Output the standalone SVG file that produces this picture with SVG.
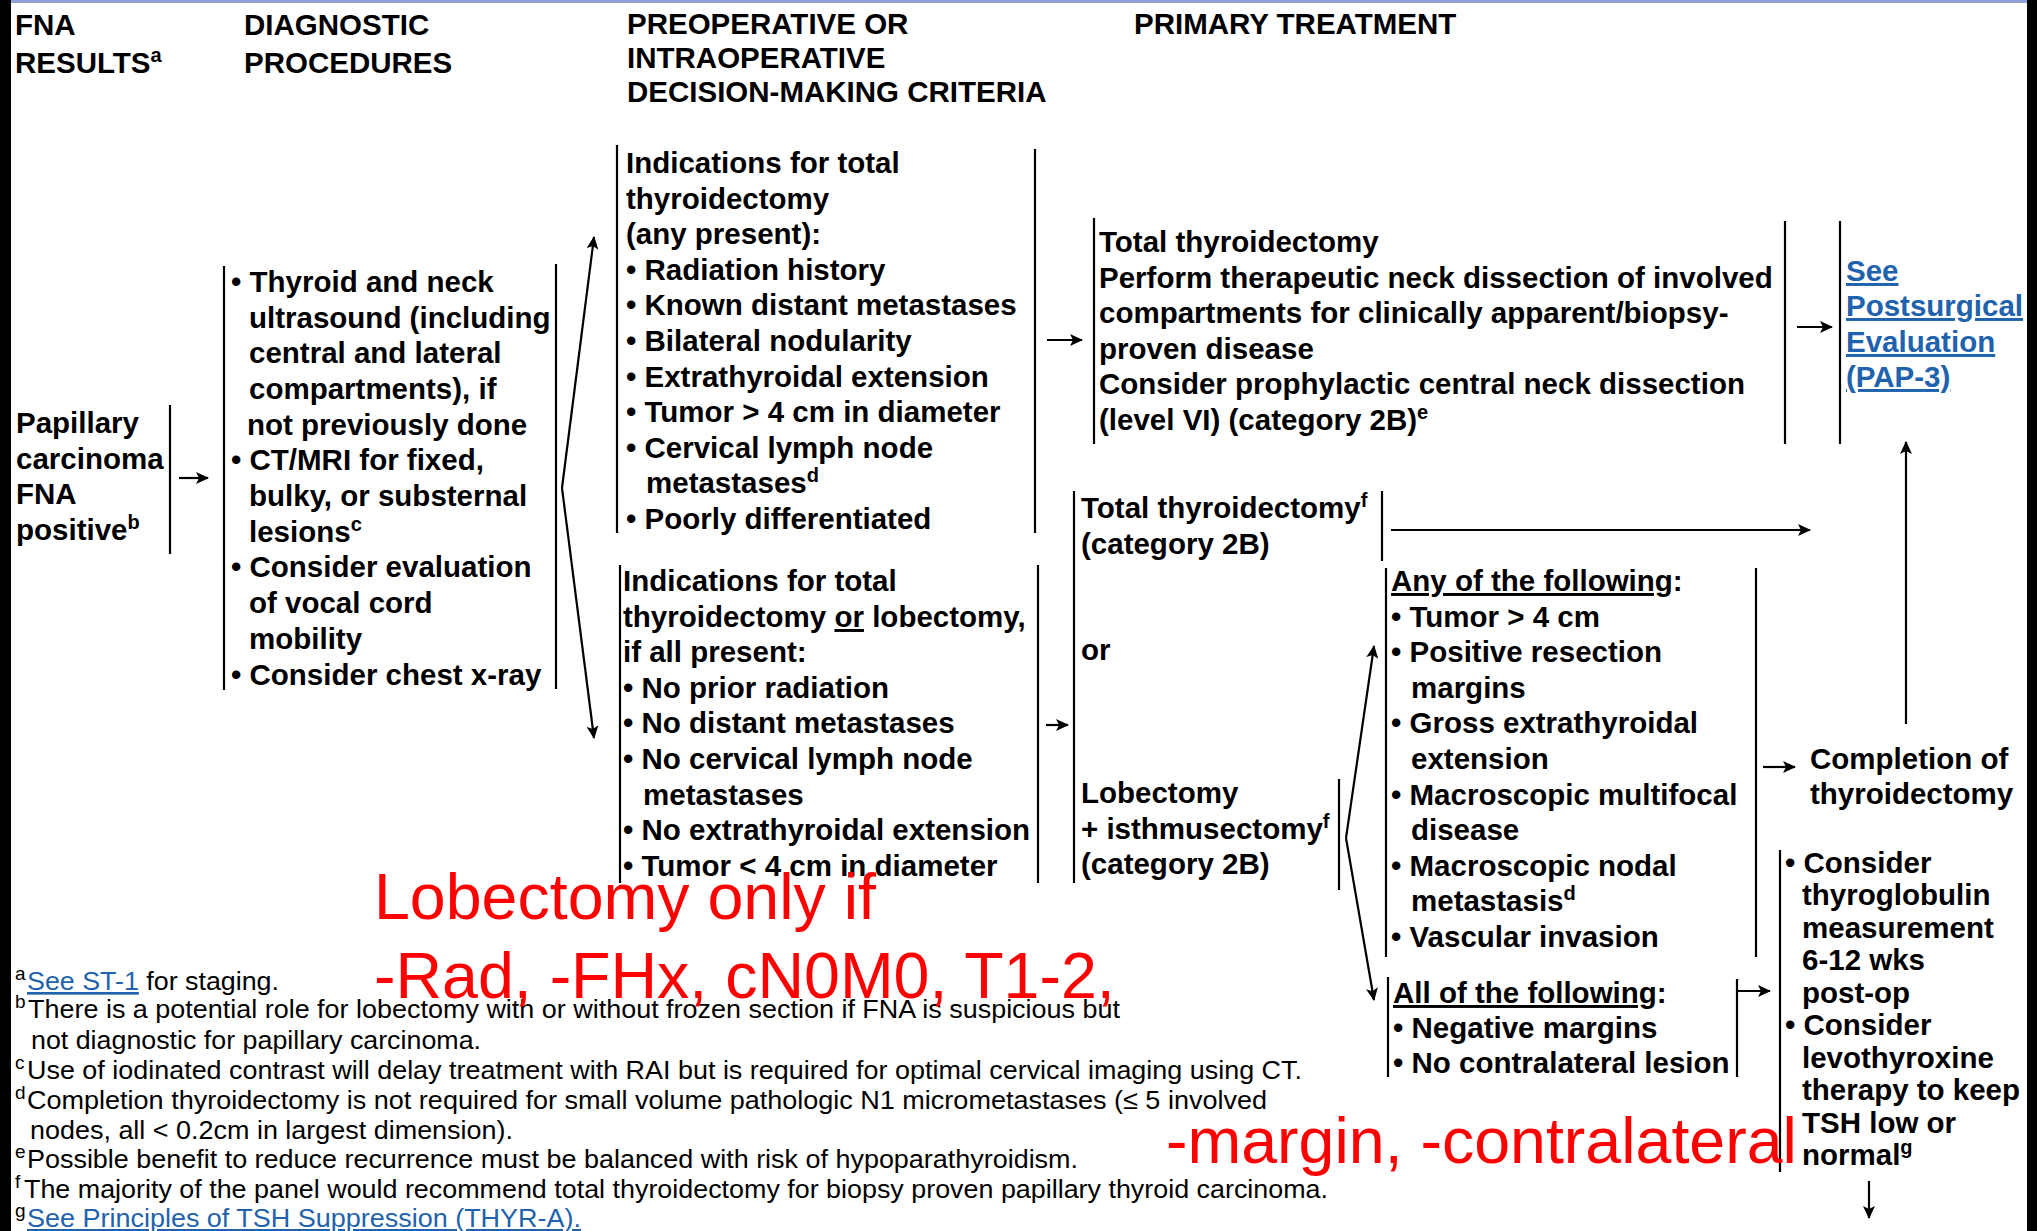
<svg xmlns="http://www.w3.org/2000/svg" width="2037" height="1231" viewBox="0 0 2037 1231">
<style>
text{font-family:"Liberation Sans",Arial,sans-serif;fill:#000}
.h{font-size:29.5px;font-weight:bold}
.t{font-size:29.5px;font-weight:bold}
.s{font-size:20px;font-weight:bold}
.fn{font-size:26.5px}
.fs{font-size:19px}
.lnk{fill:#1f62ad;text-decoration:underline}
.red{font-size:64.5px;fill:#ff0000}
.u{text-decoration:underline}
.bar{stroke:#000;stroke-width:2.2;fill:none}
.c{stroke:#000;stroke-width:2.2;fill:none;marker-end:url(#ah)}
</style>
<defs>
<marker id="ah" markerUnits="userSpaceOnUse" markerWidth="13" markerHeight="12" refX="12" refY="6" orient="auto">
<path d="M0,0 L13,6 L0,12 L3,6 z" fill="#000"/>
</marker>
</defs>
<rect x="0" y="0" width="2037" height="1231" fill="#fff"/>
<rect x="11" y="0" width="2016" height="3" fill="#8fa2d8"/>
<rect x="0" y="0" width="11" height="1231" fill="#000"/>
<rect x="2027" y="0" width="10" height="1231" fill="#000"/>

<g id="headers">
<text class="h" x="15" y="35">FNA</text>
<text class="h" x="15" y="73">RESULTS<tspan class="s" dy="-11">a</tspan></text>
<text class="h" x="244" y="35">DIAGNOSTIC</text>
<text class="h" x="244" y="73">PROCEDURES</text>
<text class="h" x="627" y="34">PREOPERATIVE OR</text>
<text class="h" x="627" y="68">INTRAOPERATIVE</text>
<text class="h" x="627" y="102">DECISION-MAKING CRITERIA</text>
<text class="h" x="1134" y="34">PRIMARY TREATMENT</text>
</g>

<g id="papillary">
<line class="bar" x1="170" y1="405" x2="170" y2="554"/>
<text class="t" x="16" y="433">Papillary</text>
<text class="t" x="16" y="469">carcinoma</text>
<text class="t" x="16" y="504">FNA</text>
<text class="t" x="16" y="540">positive<tspan class="s" dy="-11">b</tspan></text>
</g>

<g id="diagnostic">
<line class="bar" x1="224" y1="266" x2="224" y2="690"/>
<line class="bar" x1="556" y1="264" x2="556" y2="689"/>
<text class="t" x="231" y="292">• Thyroid and neck</text>
<text class="t" x="249" y="328">ultrasound (including</text>
<text class="t" x="249" y="363">central and lateral</text>
<text class="t" x="249" y="399">compartments), if</text>
<text class="t" x="247" y="435">not previously done</text>
<text class="t" x="231" y="470">• CT/MRI for fixed,</text>
<text class="t" x="249" y="506">bulky, or substernal</text>
<text class="t" x="249" y="542">lesions<tspan class="s" dy="-11">c</tspan></text>
<text class="t" x="231" y="577">• Consider evaluation</text>
<text class="t" x="249" y="613">of vocal cord</text>
<text class="t" x="249" y="649">mobility</text>
<text class="t" x="231" y="685">• Consider chest x-ray</text>
</g>

<g id="indications-total">
<line class="bar" x1="617" y1="145" x2="617" y2="533"/>
<line class="bar" x1="1035" y1="149" x2="1035" y2="533"/>
<text class="t" x="626" y="173">Indications for total</text>
<text class="t" x="626" y="209">thyroidectomy</text>
<text class="t" x="626" y="244">(any present):</text>
<text class="t" x="626" y="280">• Radiation history</text>
<text class="t" x="626" y="315">• Known distant metastases</text>
<text class="t" x="626" y="351">• Bilateral nodularity</text>
<text class="t" x="626" y="387">• Extrathyroidal extension</text>
<text class="t" x="626" y="422">• Tumor &gt; 4 cm in diameter</text>
<text class="t" x="626" y="458">• Cervical lymph node</text>
<text class="t" x="646" y="493">metastases<tspan class="s" dy="-11">d</tspan></text>
<text class="t" x="626" y="529">• Poorly differentiated</text>
</g>

<g id="total-thyroidectomy-neck">
<line class="bar" x1="1094" y1="218" x2="1094" y2="444"/>
<line class="bar" x1="1785" y1="221" x2="1785" y2="444"/>
<text class="t" x="1099" y="252">Total thyroidectomy</text>
<text class="t" x="1099" y="288">Perform therapeutic neck dissection of involved</text>
<text class="t" x="1099" y="323">compartments for clinically apparent/biopsy-</text>
<text class="t" x="1099" y="359">proven disease</text>
<text class="t" x="1099" y="394">Consider prophylactic central neck dissection</text>
<text class="t" x="1099" y="430">(level VI) (category 2B)<tspan class="s" dy="-11">e</tspan></text>
</g>

<g id="postsurgical">
<line class="bar" x1="1840" y1="221" x2="1840" y2="444"/>
<text class="t lnk" x="1846" y="281">See </text>
<text class="t lnk" x="1846" y="316">Postsurgical</text>
<text class="t lnk" x="1846" y="352">Evaluation </text>
<text class="t lnk" x="1846" y="387">(PAP-3)</text>
</g>

<g id="indications-lobectomy">
<line class="bar" x1="620" y1="565" x2="620" y2="883"/>
<line class="bar" x1="1038" y1="565" x2="1038" y2="883"/>
<text class="t" x="623" y="591">Indications for total</text>
<text class="t" x="623" y="627">thyroidectomy <tspan class="u">or</tspan> lobectomy,</text>
<text class="t" x="623" y="662">if all present:</text>
<text class="t" x="623" y="698">• No prior radiation</text>
<text class="t" x="623" y="733">• No distant metastases</text>
<text class="t" x="623" y="769">• No cervical lymph node</text>
<text class="t" x="643" y="805">metastases</text>
<text class="t" x="623" y="840">• No extrathyroidal extension</text>
<text class="t" x="623" y="876">• Tumor &lt; 4 cm in diameter</text>
</g>

<g id="surgery-options">
<line class="bar" x1="1074" y1="491" x2="1074" y2="883"/>
<line class="bar" x1="1382" y1="491" x2="1382" y2="561"/>
<line class="bar" x1="1339" y1="779" x2="1339" y2="890"/>
<text class="t" x="1081" y="518">Total thyroidectomy<tspan class="s" dy="-11">f</tspan></text>
<text class="t" x="1081" y="554">(category 2B)</text>
<text class="t" x="1081" y="660">or</text>
<text class="t" x="1081" y="803">Lobectomy</text>
<text class="t" x="1081" y="839">+ isthmusectomy<tspan class="s" dy="-11">f</tspan></text>
<text class="t" x="1081" y="874">(category 2B)</text>
</g>

<g id="any-following">
<line class="bar" x1="1386" y1="568" x2="1386" y2="957"/>
<line class="bar" x1="1756" y1="568" x2="1756" y2="957"/>
<text class="t" x="1391" y="591"><tspan class="u">Any of the following</tspan>:</text>
<text class="t" x="1391" y="627">• Tumor &gt; 4 cm</text>
<text class="t" x="1391" y="662">• Positive resection</text>
<text class="t" x="1411" y="698">margins</text>
<text class="t" x="1391" y="733">• Gross extrathyroidal</text>
<text class="t" x="1411" y="769">extension</text>
<text class="t" x="1391" y="805">• Macroscopic multifocal</text>
<text class="t" x="1411" y="840">disease</text>
<text class="t" x="1391" y="876">• Macroscopic nodal</text>
<text class="t" x="1411" y="911">metastasis<tspan class="s" dy="-11">d</tspan></text>
<text class="t" x="1391" y="947">• Vascular invasion</text>
</g>

<g id="completion">
<text class="t" x="1810" y="769">Completion of</text>
<text class="t" x="1810" y="804">thyroidectomy</text>
</g>

<g id="all-following">
<line class="bar" x1="1388" y1="977" x2="1388" y2="1077"/>
<line class="bar" x1="1737" y1="979" x2="1737" y2="1077"/>
<text class="t" x="1393" y="1003"><tspan class="u">All of the following</tspan>:</text>
<text class="t" x="1393" y="1038">• Negative margins</text>
<text class="t" x="1393" y="1073">• No contralateral lesion</text>
</g>

<g id="consider">
<line class="bar" x1="1780" y1="850" x2="1780" y2="1172"/>
<text class="t" x="1785" y="873">• Consider</text>
<text class="t" x="1802" y="905">thyroglobulin</text>
<text class="t" x="1802" y="938">measurement</text>
<text class="t" x="1802" y="970">6-12 wks</text>
<text class="t" x="1802" y="1003">post-op</text>
<text class="t" x="1785" y="1035">• Consider</text>
<text class="t" x="1802" y="1068">levothyroxine</text>
<text class="t" x="1802" y="1100">therapy to keep</text>
<text class="t" x="1802" y="1133">TSH low or</text>
<text class="t" x="1802" y="1165">normal<tspan class="s" dy="-11">g</tspan></text>
</g>

<g id="connectors">
<line class="c" x1="179" y1="478" x2="208" y2="478"/>
<line class="c" x1="562" y1="488" x2="594" y2="237"/>
<line class="c" x1="562" y1="488" x2="594" y2="738"/>
<line class="c" x1="1047" y1="340" x2="1082" y2="340"/>
<line class="c" x1="1797" y1="327" x2="1832" y2="327"/>
<line class="c" x1="1046" y1="725" x2="1068" y2="725"/>
<line class="c" x1="1391" y1="530" x2="1810" y2="530"/>
<line class="c" x1="1346" y1="838" x2="1374" y2="646"/>
<line class="c" x1="1346" y1="838" x2="1374" y2="1000"/>
<line class="c" x1="1763" y1="767" x2="1795" y2="767"/>
<line class="c" x1="1906" y1="724" x2="1906" y2="442"/>
<line class="c" x1="1737" y1="991" x2="1770" y2="991"/>
<line class="c" x1="1869" y1="1181" x2="1869" y2="1218"/>
</g>

<g id="footnotes">
<text class="fs" x="15" y="980">a</text>
<text class="fn" x="27" y="990" textLength="252" lengthAdjust="spacingAndGlyphs"><tspan class="lnk">See ST-1</tspan> for staging.</text>
<text class="fs" x="15" y="1008">b</text>
<text class="fn" x="28" y="1018" textLength="1092" lengthAdjust="spacingAndGlyphs">There is a potential role for lobectomy with or without frozen section if FNA is suspicious but</text>
<text class="fn" x="31" y="1049" textLength="450" lengthAdjust="spacingAndGlyphs">not diagnostic for papillary carcinoma.</text>
<text class="fs" x="15" y="1069">c</text>
<text class="fn" x="27" y="1079" textLength="1275" lengthAdjust="spacingAndGlyphs">Use of iodinated contrast will delay treatment with RAI but is required for optimal cervical imaging using CT.</text>
<text class="fs" x="15" y="1099">d</text>
<text class="fn" x="27" y="1109" textLength="1240" lengthAdjust="spacingAndGlyphs">Completion thyroidectomy is not required for small volume pathologic N1 micrometastases (≤ 5 involved</text>
<text class="fn" x="30" y="1139" textLength="483" lengthAdjust="spacingAndGlyphs">nodes, all &lt; 0.2cm in largest dimension).</text>
<text class="fs" x="15" y="1158">e</text>
<text class="fn" x="27" y="1168" textLength="1051" lengthAdjust="spacingAndGlyphs">Possible benefit to reduce recurrence must be balanced with risk of hypoparathyroidism.</text>
<text class="fs" x="15" y="1188">f</text>
<text class="fn" x="24" y="1198" textLength="1304" lengthAdjust="spacingAndGlyphs">The majority of the panel would recommend total thyroidectomy for biopsy proven papillary thyroid carcinoma.</text>
<text class="fs" x="15" y="1217">g</text>
<text class="fn lnk" x="27" y="1227" textLength="554" lengthAdjust="spacingAndGlyphs">See Principles of TSH Suppression (THYR-A).</text>
</g>

<g id="annotations">
<text class="red" x="374" y="919">Lobectomy only if</text>
<text class="red" x="374" y="998">-Rad, -FHx, cN0M0, T1-2,</text>
<text class="red" x="1166" y="1163">-margin, -contralateral</text>
</g>
</svg>
